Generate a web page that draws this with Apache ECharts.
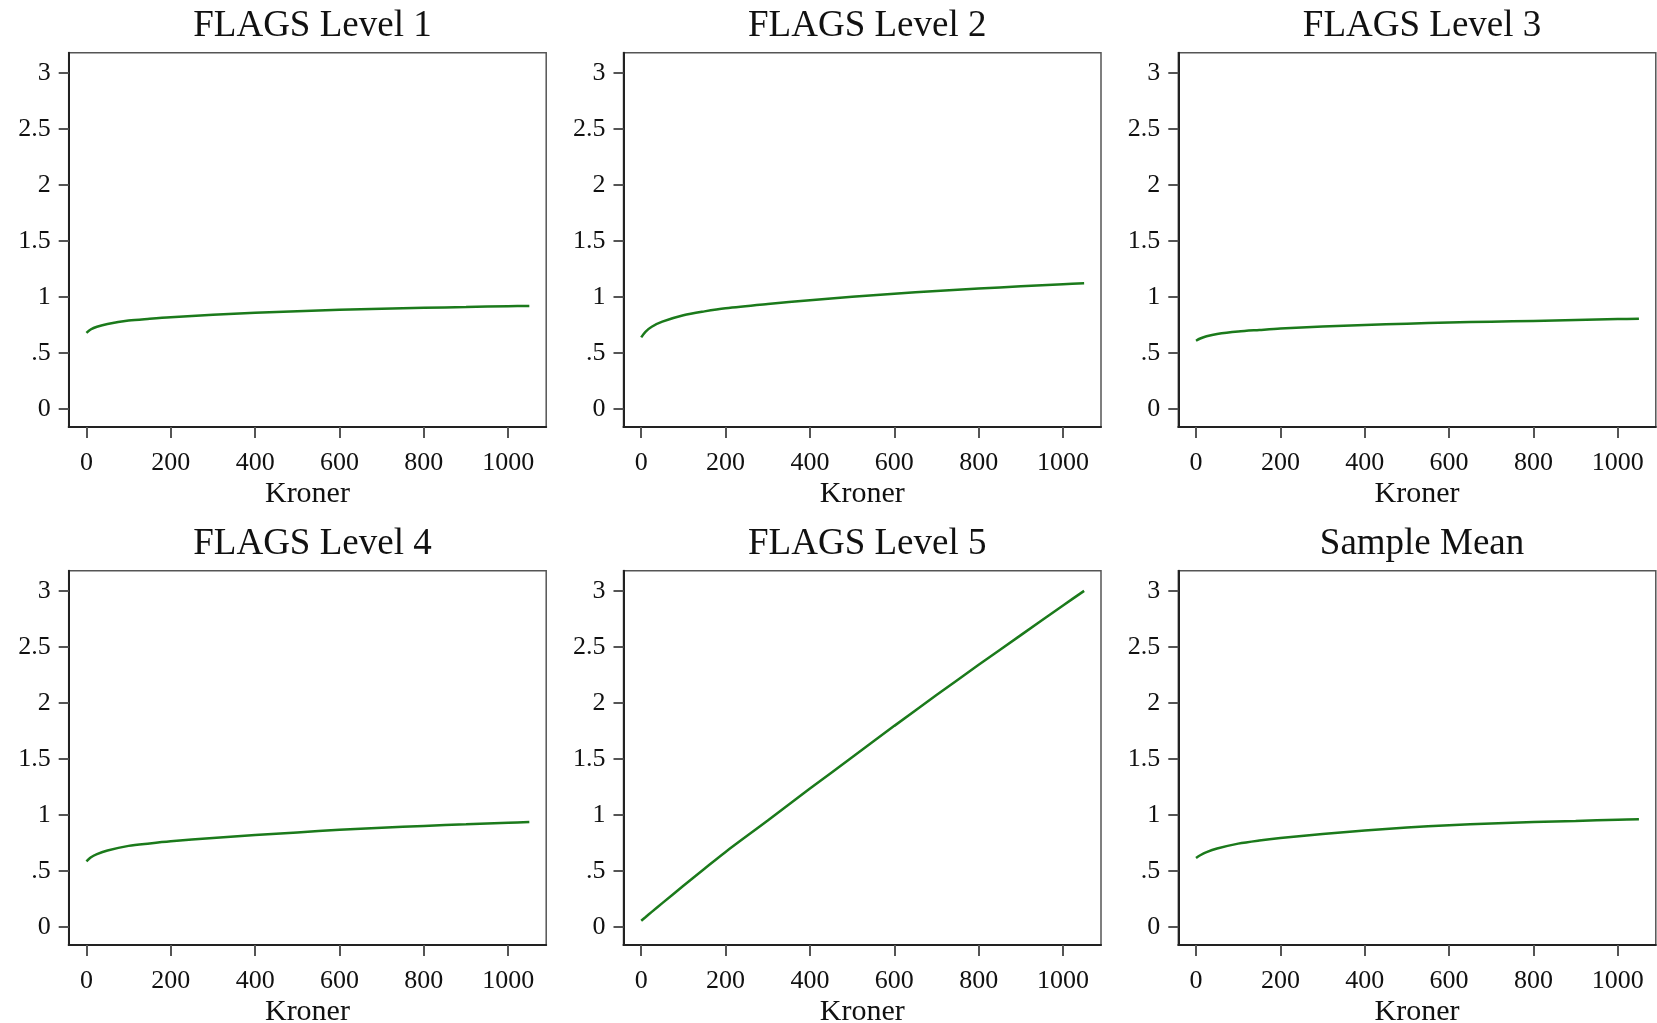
<!DOCTYPE html>
<html>
<head>
<meta charset="utf-8">
<title>FLAGS levels</title>
<script src="https://cdn.jsdelivr.net/npm/echarts@6/dist/echarts.min.js"></script>
<style>
  html, body { margin: 0; padding: 0; background: #fff; }
  #chart { width: 1657px; height: 1023px; }
</style>
</head>
<body>
<div id="chart"></div>
<script>
// x values (Kroner)
const kroner = [0, 10, 25, 50, 100, 150, 200, 300, 400, 500, 600, 700, 800, 900, 1000, 1050];

const level1 = [0.68, 0.71, 0.735, 0.76, 0.79, 0.806, 0.82, 0.842, 0.86, 0.874, 0.886, 0.896, 0.904, 0.911, 0.918, 0.921];
const level2 = [0.64, 0.69, 0.735, 0.78, 0.837, 0.872, 0.90, 0.938, 0.972, 1.003, 1.030, 1.054, 1.076, 1.096, 1.114, 1.123];
const level3 = [0.61, 0.63, 0.65, 0.67, 0.692, 0.706, 0.719, 0.737, 0.75, 0.762, 0.772, 0.78, 0.787, 0.795, 0.803, 0.807];
const level4 = [0.585, 0.62, 0.65, 0.683, 0.724, 0.746, 0.765, 0.795, 0.82, 0.844, 0.867, 0.886, 0.902, 0.916, 0.93, 0.936];
const level5 = [0.055, 0.087, 0.135, 0.213, 0.368, 0.52, 0.67, 0.95, 1.235, 1.515, 1.795, 2.07, 2.34, 2.605, 2.87, 3.0];
const sampleMean = [0.615, 0.64, 0.668, 0.70, 0.744, 0.772, 0.794, 0.83, 0.861, 0.887, 0.908, 0.924, 0.937, 0.947, 0.958, 0.962];

const titles = ["FLAGS Level 1", "FLAGS Level 2", "FLAGS Level 3", "FLAGS Level 4", "FLAGS Level 5", "Sample Mean"];
const panels = [level1, level2, level3, level4, level5, sampleMean];

const xTicks = [0, 200, 400, 600, 800, 1000];
const yTicks = [0, 0.5, 1, 1.5, 2, 2.5, 3];

const font = "Liberation Serif";
const colLeft = [68.7, 623.5, 1178.3];
const rowTop = [52.8, 570.7];
const gridW = 477.5;
const gridH = 374.2;

const grids = [], xAxes = [], yAxes = [], series = [], titleList = [];

panels.forEach((vals, i) => {
  const col = i % 3, row = Math.floor(i / 3);
  grids.push({
    left: colLeft[col], top: rowTop[row], width: gridW, height: gridH,
    outerBoundsMode: "none", containLabel: false,
    show: true, borderColor: "#555", borderWidth: 1.5, backgroundColor: "#fff"
  });
  titleList.push({
    text: titles[i],
    left: colLeft[col] + gridW / 2,
    top: row === 0 ? 3 : 521,
    textAlign: "center",
    textStyle: { fontFamily: font, fontSize: 37, fontWeight: "normal", color: "#111" }
  });
  xAxes.push({
    type: "value", gridIndex: i, min: -42, max: 1090,
    name: "Kroner", nameLocation: "middle", nameGap: 52,
    nameTextStyle: { fontFamily: font, fontSize: 30, color: "#111" },
    axisLine: { show: true, onZero: false, lineStyle: { color: "#222", width: 2 } },
    axisTick: { show: true, length: 11, customValues: xTicks, lineStyle: { color: "#555", width: 2 } },
    axisLabel: {
      customValues: xTicks, margin: 23, fontFamily: font, fontSize: 26, color: "#111",
      formatter: v => String(v)
    },
    splitLine: { show: false }
  });
  yAxes.push({
    type: "value", gridIndex: i, min: -0.16, max: 3.18,
    axisLine: { show: true, onZero: false, lineStyle: { color: "#222", width: 2 } },
    axisTick: { show: true, length: 10, customValues: yTicks, lineStyle: { color: "#555", width: 2 } },
    axisLabel: {
      customValues: yTicks, margin: 18, fontFamily: font, fontSize: 26, color: "#111",
      formatter: v => String(v).replace(/^0\./, ".")
    },
    splitLine: { show: false }
  });
  series.push({
    type: "line", xAxisIndex: i, yAxisIndex: i,
    data: kroner.map((k, j) => [k, vals[j]]),
    smooth: 0.3, showSymbol: false,
    lineStyle: { color: "#1b7a1b", width: 2.5 }
  });
});

const chart = echarts.init(document.getElementById("chart"));
chart.setOption({
  animation: false,
  backgroundColor: "#fff",
  title: titleList,
  grid: grids,
  xAxis: xAxes,
  yAxis: yAxes,
  series: series
});
</script>
</body>
</html>
